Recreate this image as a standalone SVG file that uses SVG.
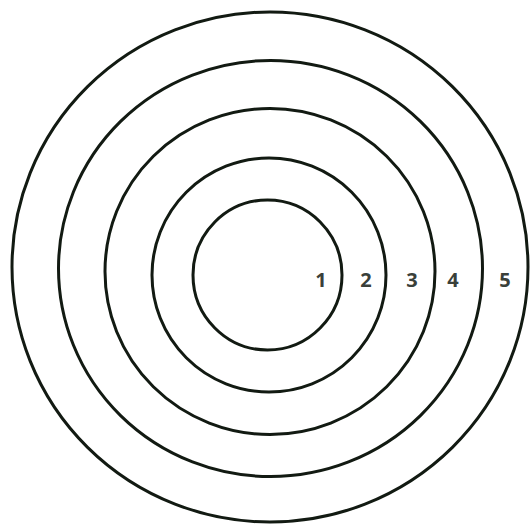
<svg xmlns="http://www.w3.org/2000/svg" width="531" height="528" viewBox="0 0 531 528">
<style>
.ring{fill:none;stroke:#121a12;stroke-width:3}
.lbl{font-family:"Open Sans","Liberation Sans",sans-serif;font-size:20px;font-weight:700;fill:#3a403a;text-anchor:middle}
</style>
<rect width="531" height="528" fill="#ffffff"/>
<g id="ring5"><ellipse class="ring" cx="270" cy="267" rx="258" ry="255"/><text class="lbl" x="505" y="287">5</text></g>
<g id="ring4"><ellipse class="ring" cx="270.5" cy="268.5" rx="212" ry="208"/><text class="lbl" x="453" y="287">4</text></g>
<g id="ring3"><ellipse class="ring" cx="270" cy="271.5" rx="165" ry="163"/><text class="lbl" x="412" y="287">3</text></g>
<g id="ring2"><ellipse class="ring" cx="269" cy="275" rx="117" ry="117"/><text class="lbl" x="366" y="287">2</text></g>
<g id="ring1"><ellipse class="ring" cx="267.5" cy="275" rx="74.5" ry="75"/><text class="lbl" x="321" y="287">1</text></g>
<g id="connectors"/>
</svg>
